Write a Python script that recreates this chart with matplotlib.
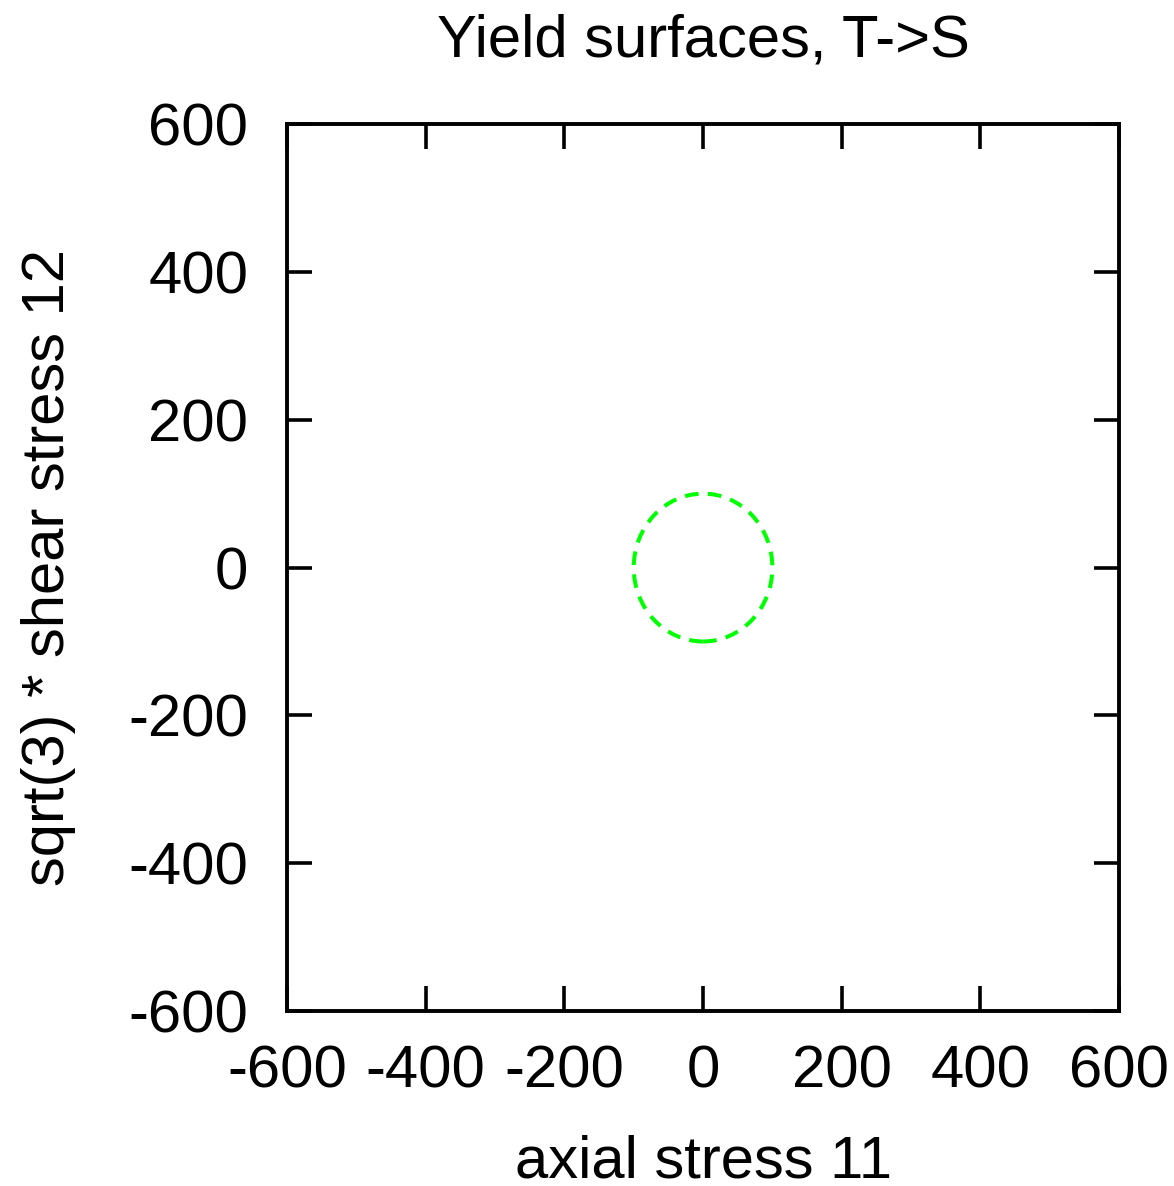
import matplotlib
matplotlib.use('Agg')
import matplotlib.pyplot as plt
from matplotlib.patches import Circle

plt.rcParams['font.family'] = ['Liberation Sans', 'DejaVu Sans']
plt.rcParams['axes.unicode_minus'] = False

# yield surface (T->S): circle centre and radius
centre = [0, 0]
radius = 100

ticks = [-600, -400, -200, 0, 200, 400, 600]

fig = plt.figure(figsize=(11.74, 11.86), dpi=100)
ax = fig.add_axes([0.2445, 0.1475, 0.7087, 0.7479])

surface = Circle(centre, radius, fill=False, edgecolor='#00ff00',
                 linewidth=2.9, linestyle=(0, (3.4, 2.3)))
ax.add_patch(surface)

ax.set_xlim(-600, 600)
ax.set_ylim(-600, 600)
ax.set_xticks(ticks)
ax.set_yticks(ticks)
ax.tick_params(direction='in', length=18, width=2.6, labelsize=43,
               top=True, right=True)
ax.tick_params(axis='x', pad=24)
ax.tick_params(axis='y', pad=28)
for s in ax.spines.values():
    s.set_linewidth(2.8)

ax.set_title('Yield surfaces, T->S', fontsize=43, pad=49)
ax.set_xlabel('axial stress 11', fontsize=43, labelpad=25)
ax.set_ylabel('sqrt(3) * shear stress 12', fontsize=43, labelpad=38)

fig.savefig('out.png', dpi=100)
